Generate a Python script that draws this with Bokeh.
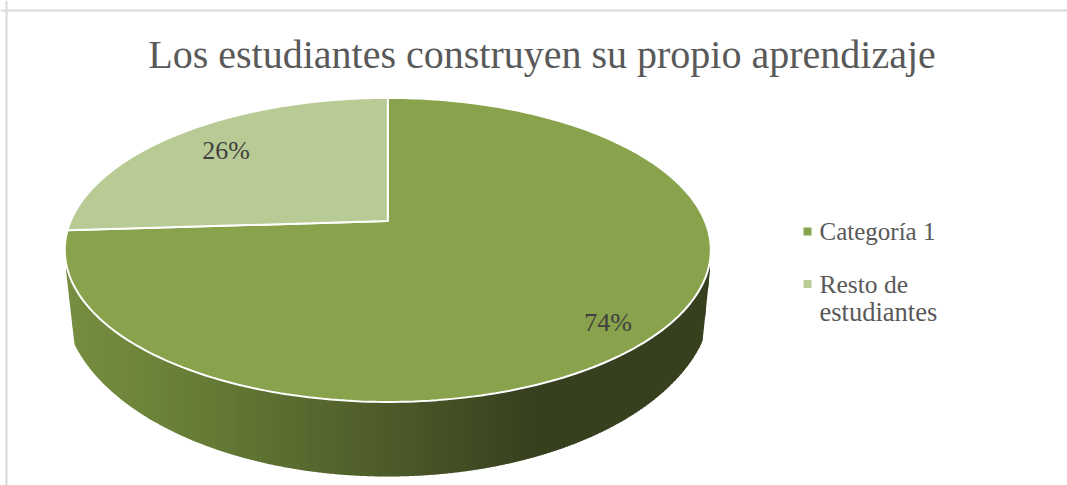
import numpy as np
from bokeh.plotting import figure
from bokeh.models import Range1d, Span
from bokeh.core.properties import value
from bokeh.embed import file_html
from bokeh.resources import INLINE

title = "Los estudiantes construyen su propio aprendizaje"
categories = ["Categoría 1", "Resto de\nestudiantes"]
values = [74, 26]
colors = ["#88A34C", "#B9CB94"]
label_radius = [0.868, 0.77]
label_turn_deg = [1.8, 0.0]

W, H = 1067, 485
FONT = "Liberation Serif"

# perspective projection of the pie disk onto the picture
CX, CY, A, B, K = 387.3, 249.4, 323.0, 152.0, 0.19
BOT_CY, BOT_A, BOT_B = 296.0, 325.0, 180.0
SIDE_L, SIDE_R = 74.0, 702.0


def project(dx, dy):
    """Unit-disk point (dy up) -> picture coordinates."""
    dx, dy = np.asarray(dx, float), np.asarray(dy, float)
    d = 1 + K * dy
    u = dx * np.sqrt(1 - K * K) / d
    v = (dy + K) / d
    return CX + A * u, CY - B * v


def top_edge(x):
    return CY + B * np.sqrt(np.clip(1 - ((x - CX) / A) ** 2, 0, 1))


def bottom_curve(x):
    return BOT_CY + BOT_B * np.sqrt(np.clip(1 - ((x - CX) / BOT_A) ** 2, 0, 1))


def lower_edge(x):
    x = np.asarray(x, float)
    y = bottom_curve(x)
    y = np.where(x < SIDE_L, 270 + (x - 65.5) / (SIDE_L - 65.5) * (bottom_curve(SIDE_L) - 270), y)
    y = np.where(x > SIDE_R, 270 + (709.5 - x) / (709.5 - SIDE_R) * (bottom_curve(SIDE_R) - 270), y)
    return y


stops_x = [66, 200, 400, 535, 710]
stops_rgb = np.array([[118, 142, 64], [102, 124, 54], [75, 88, 40], [54, 63, 30], [54, 63, 30]], float)


def wall_color(x):
    c = [np.interp(x, stops_x, stops_rgb[:, i]) for i in range(3)]
    return "#%02x%02x%02x" % tuple(int(round(v)) for v in c)


p = figure(width=W, height=H, output_backend="svg", toolbar_location=None,
           x_range=Range1d(0, W), y_range=Range1d(H, 0),
           min_border=0, outline_line_color=None)
p.axis.visible = False
p.grid.visible = False
p.background_fill_color = "white"
p.border_fill_color = "white"

p.add_layout(Span(location=6, dimension="height", line_color="#D9D9D9", line_width=2))
p.add_layout(Span(location=10, dimension="width", line_color="#D9D9D9", line_width=2))

# side wall: thin strips painted left to right
edges = np.arange(65.5, 710.0, 3.0)
sx, sy, sc = [], [], []
for x0 in edges:
    x1 = min(x0 + 3.7, 709.5)
    xs = np.linspace(x0, x1, 4)
    sx.append(np.concatenate([xs, xs[::-1]]).tolist())
    sy.append(np.concatenate([top_edge(xs) - 2, lower_edge(xs)[::-1]]).tolist())
    sc.append(wall_color(x0))
p.patches(sx, sy, fill_color=sc, line_color=None)

# top surface slices, clockwise from twelve o'clock
fractions = np.array(values, float) / sum(values)
starts = np.concatenate([[0], np.cumsum(fractions)[:-1]]) * 2 * np.pi
ends = np.cumsum(fractions) * 2 * np.pi
for s, e, c in zip(starts, ends, colors):
    t = np.linspace(s, e, 240)
    dx = np.concatenate([[0], np.sin(t)])
    dy = np.concatenate([[0], np.cos(t)])
    px, py = project(dx, dy)
    p.patch(px.tolist(), py.tolist(), fill_color=c, line_color="white", line_width=2)

# data labels
mids = (starts + ends) / 2 + np.radians(label_turn_deg)
lx, ly = project(np.sin(mids) * label_radius, np.cos(mids) * label_radius)
p.text(lx.tolist(), ly.tolist(), text=[f"{v}%" for v in values], text_font=value(FONT),
       text_font_size="26px", text_color="#404040", text_align="center", text_baseline="middle")

# title
p.text([541.5], [53.5], text=[title], text_font=value(FONT), text_font_size="40px",
       text_color="#595959", text_align="center", text_baseline="alphabetic")

# legend
p.scatter([807, 807], [231, 283.5], marker="square", size=8, fill_color=colors, line_color=None)
legend_lines = [categories[0]] + categories[1].split("\n")
for line, yy, fs in zip(legend_lines, [230.5, 283.5, 311.5], ["25px", "25.5px", "26.5px"]):
    p.text([819], [yy], text=[line], text_font=value(FONT), text_font_size=fs,
           text_color="#595959", text_baseline="alphabetic")

open("out.html", "w").write(file_html(p, INLINE))
